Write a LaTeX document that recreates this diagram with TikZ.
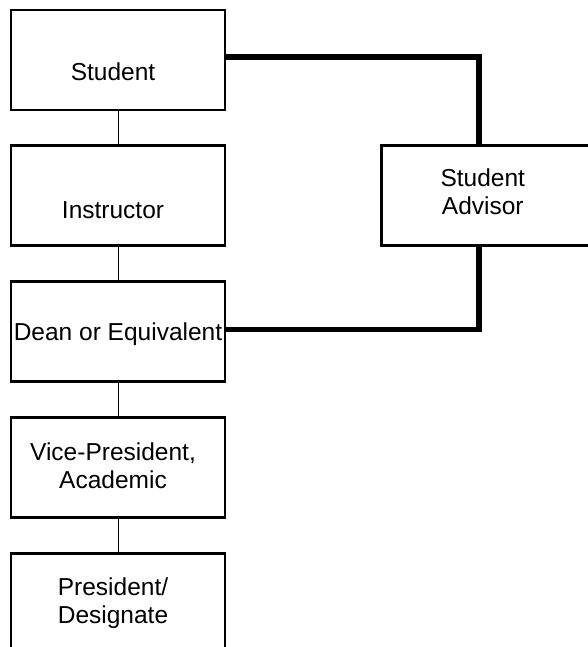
\documentclass[tikz,border=0pt]{standalone}
\usepackage{fontspec}
\setmainfont{Liberation Sans}
\usetikzlibrary{positioning}

\begin{document}
\begin{tikzpicture}[x=1pt, y=-1pt, node distance=33pt,
  every node/.style={font=\fontsize{24.5}{28}\selectfont},
  every label/.style={xshift=-5pt, align=center},
  box/.style={draw, line width=2.8pt, minimum width=214pt, minimum height=100pt, inner sep=0pt, align=center},
  link/.style={line width=1pt},
  advlink/.style={line width=5.5pt}]
\useasboundingbox (0,0) rectangle (587,647);
% chain of offices
\node[box, label={[yshift=-12pt]center:Student}] (stu) at (118,60) {};
\node[box, below=of stu, label={[yshift=-14pt]center:Instructor}] (ins) {};
\node[box, below=of ins, label={[yshift=-3pt, xshift=5pt]center:Dean or Equivalent}] (dean) {};
\node[box, below=of dean, label={[yshift=2pt]center:Vice-President,\\Academic}] (vp) {};
\node[box, below=of vp, label={center:President/\\Designate}] (pres) {};
% advisor on the side
\node[box, minimum width=230pt, right=154pt of ins, label={[yshift=4pt, xshift=-9pt]center:Student\\Advisor}] (adv) {};

\draw[link] (stu) -- (ins);
\draw[link] (ins) -- (dean);
\draw[link] (dean) -- (vp);
\draw[link] (vp) -- (pres);

\draw[advlink] ([yshift=3pt]stu.east) -| ([xshift=-18pt]adv.north);
\draw[advlink] ([yshift=2pt]dean.east) -| ([xshift=-18pt]adv.south);
\end{tikzpicture}
\end{document}
